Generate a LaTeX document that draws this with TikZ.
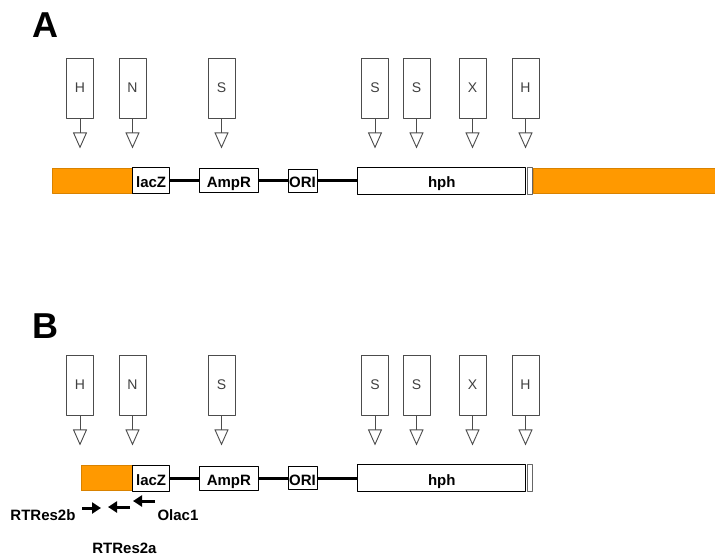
\documentclass[tikz,border=0pt]{standalone}
\usepackage{fontspec}
\setmainfont{Liberation Sans}
\usetikzlibrary{positioning, arrows.meta}
\definecolor{flankorange}{RGB}{255,153,0}

\begin{document}
\begin{tikzpicture}[
        x=1pt, y=-1pt, line join=round,
        site/.style={draw=black!70, line width=0.9pt, fill=white, inner sep=0pt,
            minimum width=27pt, minimum height=60pt, text=black!75,
            font=\fontsize{14}{16}\selectfont},
        cut/.style={draw=black!70, line width=0.9pt,
            -{Triangle[open, length=16pt, width=14pt]}},
        gene/.style={draw, fill=white, line width=0.7pt, inner sep=0pt,
            minimum height=24pt, text height=14pt, text depth=0pt,
            font=\bfseries\fontsize{15}{17}\selectfont},
        flank/.style={draw=flankorange!85!black, fill=flankorange, line width=0.6pt,
            inner sep=0pt, minimum height=25pt},
        backbone/.style={line width=3pt},
        panel/.style={font=\bfseries\fontsize{36}{38}\selectfont},
        primer/.style={font=\bfseries\fontsize{15}{17}\selectfont},
        oligo/.style={line width=3pt, -{Triangle[length=9pt, width=11pt]}}
    ]
    \useasboundingbox (0,0) rectangle (715,557);

    % panel letters
    \node[panel] (pa) at (45,25) {A};
    \node[panel] (pb) at (45,326) {B};

    % restriction sites, same in both panels
    \foreach \p/\dy in {a/0, b/297} {
        \foreach \x/\l [count=\i] in {80/H, 132.5/N, 221.5/S, 375/S, 416.5/S, 472.5/X, 525.5/H} {
            \node[site] (\p site\i) at (\x, 88+\dy) {\l};
            \draw[cut] (\p site\i.south) -- ++(0,30);
        }
    }

    % A: vector with flanks
    \node[flank, minimum width=80pt] (aleft) at (92,180.5) {};
    \node[gene, minimum width=37pt, minimum height=26pt, right=0pt of aleft] (alacz) {lacZ};
    \node[gene, minimum width=59pt, right=29pt of alacz] (aamp) {AmpR};
    \node[gene, minimum width=29pt, minimum height=23pt, right=29pt of aamp] (aori) {ORI};
    \node[gene, minimum width=168pt, minimum height=27pt, right=40pt of aori] (ahph) {hph};
    \node[gene, draw=black!60, minimum width=5pt, minimum height=27pt, right=1pt of ahph] (aend) {};
    \node[flank, minimum width=186pt, right=0pt of aend] (aright) {};
    \draw[backbone] (alacz.east) -- (aamp.west);
    \draw[backbone] (aamp.east) -- (aori.west);
    \draw[backbone] (aori.east) -- (ahph.west);

    % B: rescued plasmid
    \node[flank, minimum width=51pt] (bleft) at (106.5,478) {};
    \node[gene, minimum width=37pt, minimum height=26pt, right=0pt of bleft] (blacz) {lacZ};
    \node[gene, minimum width=59pt, right=29pt of blacz] (bamp) {AmpR};
    \node[gene, minimum width=29pt, minimum height=23pt, right=29pt of bamp] (bori) {ORI};
    \node[gene, minimum width=168pt, minimum height=27pt, right=40pt of bori] (bhph) {hph};
    \node[gene, draw=black!60, minimum width=5pt, minimum height=27pt, right=1pt of bhph] (bend) {};
    \draw[backbone] (blacz.east) -- (bamp.west);
    \draw[backbone] (bamp.east) -- (bori.west);
    \draw[backbone] (bori.east) -- (bhph.west);

    % primers
    \node[primer, anchor=east] (rt2b) at (79,515) {RTRes2b};
    \node[primer, anchor=west] (olac) at (154,515) {Olac1};
    \node[primer] (rt2a) at (124.5,548) {RTRes2a};
    \draw[oligo] ([shift={(3,-7)}]rt2b.east) -- ++(19,0);
    \draw[oligo] ([shift={(5.5,-41)}]rt2a.center) -- ++(-22,0);
    \draw[oligo] ([shift={(1,-14)}]olac.west) -- ++(-22,0);
\end{tikzpicture}
\end{document}
